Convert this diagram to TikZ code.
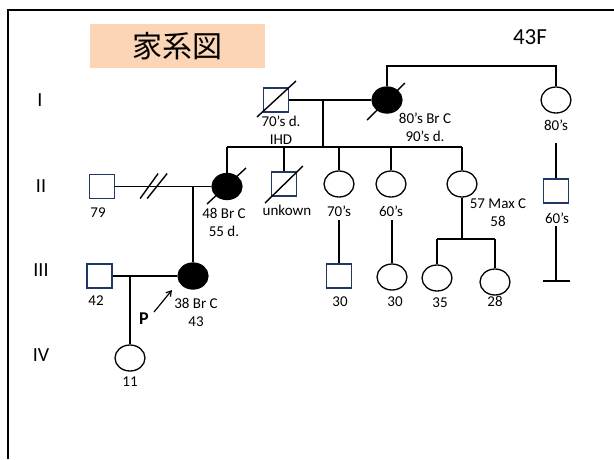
\documentclass[tikz,border=0pt]{standalone}
\usepackage{fontspec}
\setmainfont{Carlito}
\newfontfamily\jpfont{Noto Sans CJK JP}
\usetikzlibrary{shapes.geometric,arrows.meta}
\definecolor{navy}{RGB}{31,56,100}
\definecolor{peach}{RGB}{251,213,181}
\begin{document}
\begin{tikzpicture}[x=1pt,y=-1pt,
  male/.style={rectangle,draw=navy,line width=1.3pt,minimum width=25pt,minimum height=24pt,inner sep=0pt},
  female/.style={ellipse,draw=black,line width=1.3pt,minimum width=30pt,minimum height=26pt,inner sep=0pt},
  affected/.style={female,fill=black},
  lbl/.style={font=\fontsize{15}{18}\selectfont,align=center,inner sep=0pt},
  gen/.style={font=\fontsize{20}{22}\selectfont,inner sep=0pt},
  rel/.style={line width=1.8pt},
  slash/.style={line width=1.4pt},
  frame/.style={line width=2.7pt}]
\useasboundingbox (0,0) rectangle (614,459);
% frame
\coordinate (fb) at (8,459);
\coordinate (fc) at (8,10);
\coordinate (fr) at (614,10);
\draw[frame] (fb) -- (fc) -- (fr);
% title
\node[fill=peach,minimum width=175pt,minimum height=44pt,inner sep=0pt,font=\jpfont\fontsize{30}{32}\selectfont] (title) at (177.5,46) {家系図};
\node[font=\fontsize{23}{25}\selectfont,inner sep=0pt] (tag) at (530,37) {43F};
% generation numerals
\node[gen] (gI) at (40,100) {I};
\node[gen] (gII) at (41,186) {II};
\node[gen] (gIII) at (41,270) {III};
\node[gen] (gIV) at (41,355) {IV};
% generation I
\node[male] (I1) at (276,100) {};
\node[affected] (I2) at (387,100) {};
\node[female] (I3) at (556,100) {};
% generation II
\node[male] (II1) at (102,186.5) {};
\node[affected] (II2) at (227,186.5) {};
\node[male] (II3) at (284,184) {};
\node[female] (II4) at (339,184) {};
\node[female] (II5) at (391,184) {};
\node[female] (II6) at (462,184) {};
\node[male] (II7) at (556,191) {};
% generation III
\node[male] (III1) at (99.5,276) {};
\node[affected] (III2) at (193,276) {};
\node[male] (III3) at (339,276) {};
\node[female] (III4) at (392,277) {};
\node[female] (III5) at (437,278) {};
\node[female] (III6) at (495,282) {};
% generation IV
\node[female] (IV1) at (130,358) {};
% labels
\node[lbl] (l70d) at (281,130.5) {70’s d.\\IHD};
\node[lbl] (l80) at (425,127) {80’s Br C\\90’s d.};
\node[lbl] (l80s) at (556,125) {80’s};
\node[lbl] (l79) at (98,213) {79};
\node[lbl] (l48) at (224,222) {48 Br C\\55 d.};
\node[lbl] (lunk) at (287,210) {unkown};
\node[lbl] (l70) at (339,211) {70’s};
\node[lbl] (l60) at (391,211) {60’s};
\node[lbl] (l57) at (498,213) {57 Max C\\58};
\node[lbl] (l60s) at (557,218) {60’s};
\node[lbl] (l42) at (96,301) {42};
\node[lbl] (l38) at (196,312) {38 Br C\\43};
\node[lbl,font=\bfseries\fontsize{18}{20}\selectfont] (lP) at (144,319) {P};
\node[lbl] (l30a) at (340,302) {30};
\node[lbl] (l30b) at (395,302) {30};
\node[lbl] (l35) at (440,303) {35};
\node[lbl] (l28) at (495,301) {28};
\node[lbl] (l11) at (130,382) {11};
% coordinates
\coordinate (m1) at (323,100);
\coordinate (s1) at (323,147);
\coordinate (sL) at (227,147);
\coordinate (sR) at (462,147);
\coordinate (tp) at (470,66);
\coordinate (c1) at (556,143);
\coordinate (c2) at (556,226);
\coordinate (c3) at (556,281);
\coordinate (capL) at (543,281);
\coordinate (capR) at (570,281);
\coordinate (m2) at (193,186.5);
\coordinate (m3) at (130,276);
\coordinate (d4) at (339,220);
\coordinate (d5) at (392,220);
\coordinate (s3) at (462,239);
\coordinate (s3L) at (437,239);
\coordinate (s3R) at (495,239);
\coordinate (pa) at (154,312);
\coordinate (pb) at (172,290);
% generation I connections
\draw[rel] (I1.east) -- (I2.west);
\draw[rel] (m1) -- (s1);
\draw[rel] (sL) -- (sR);
\draw[rel] (I2.north) |- (tp) -| (I3.north);
\draw[rel] (II2.north) -- (II2.north |- sL);
\draw[rel] (II3.north) -- (II3.north |- sL);
\draw[rel] (II4.north) -- (II4.north |- sL);
\draw[rel] (II5.north) -- (II5.north |- sL);
\draw[rel] (II6.north) -- (II6.north |- sL);
\draw[rel] (c1) -- (II7.north);
% generation II connections
\draw[rel] (II1.east) -- (II2.west);
\draw[slash] ([shift={(25,12)}]II1.east) -- ([shift={(43,-13)}]II1.east);
\draw[slash] ([shift={(32,12)}]II1.east) -- ([shift={(52,-13)}]II1.east);
\draw[rel] (m2) -- (III2.north);
\draw[rel] (d4) -- (III3.north);
\draw[rel] (d5) -- (III4.north);
\draw[rel] (II6.south) -- (s3);
\draw[rel] (s3L) -- (s3R);
\draw[rel] (s3L) -- (III5.north);
\draw[rel] (s3R) -- (III6.north);
\draw[rel] (c2) -- (c3);
\draw[rel] (capL) -- (capR);
% generation III connections
\draw[rel] (III1.east) -- (III2.west);
\draw[rel] (m3) -- (IV1.north);
\draw[line width=1.2pt,-{Straight Barb[length=5pt,width=6pt]}] (pa) -- (pb);
% deceased slashes
\draw[slash] ([shift={(-19,17)}]I1.center) -- ([shift={(20,-19)}]I1.center);
\draw[slash] ([shift={(-20,20)}]I2.center) -- ([shift={(18,-17)}]I2.center);
\draw[slash] ([shift={(-20,17.5)}]II2.center) -- ([shift={(19,-18.5)}]II2.center);
\draw[slash] ([shift={(-19,19)}]II3.center) -- ([shift={(19,-18)}]II3.center);
\end{tikzpicture}
\end{document}
